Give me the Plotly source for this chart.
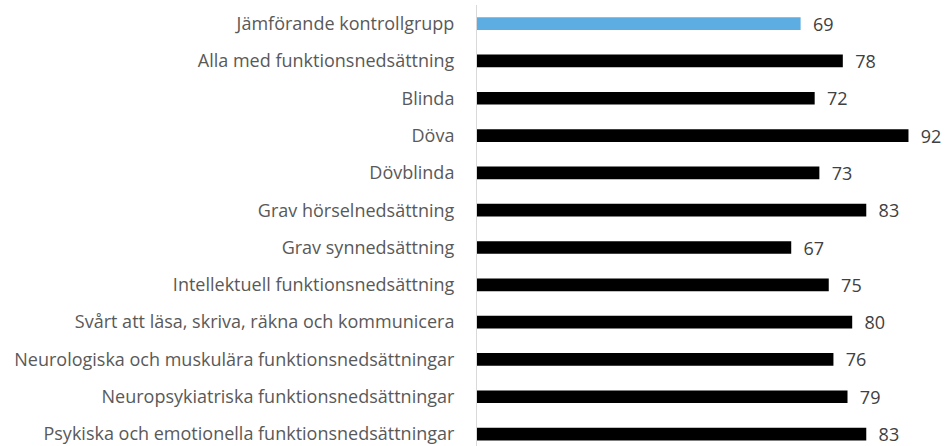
import plotly.graph_objects as go

categories = [
    "Jämförande kontrollgrupp",
    "Alla med funktionsnedsättning",
    "Blinda",
    "Döva",
    "Dövblinda",
    "Grav hörselnedsättning",
    "Grav synnedsättning",
    "Intellektuell funktionsnedsättning",
    "Svårt att läsa, skriva, räkna och kommunicera",
    "Neurologiska och muskulära funktionsnedsättningar",
    "Neuropsykiatriska funktionsnedsättningar",
    "Psykiska och emotionella funktionsnedsättningar",
]
values = [69, 78, 72, 92, 73, 83, 67, 75, 80, 76, 79, 83]
colors = ["#5DADE2"] + ["#000000"] * (len(values) - 1)

FONT = "Open Sans, sans-serif"

fig = go.Figure(go.Bar(
    x=values,
    y=categories,
    orientation="h",
    marker=dict(color=colors, line=dict(width=0)),
    width=0.34,
    text=values,
    texttemplate="  %{text}",
    textposition="outside",
    constraintext="none",
    cliponaxis=False,
    textfont=dict(family=FONT, size=18, color="#404040"),
))

fig.update_layout(
    width=946, height=446,
    margin=dict(l=477, r=0, t=5, b=0, autoexpand=False),
    paper_bgcolor="white", plot_bgcolor="white",
    showlegend=False,
    font=dict(family=FONT, size=18, color="#595959"),
    xaxis=dict(range=[0, 100], visible=False, showgrid=False, automargin=False),
    yaxis=dict(
        type="category",
        range=[11.32, -0.5],
        automargin=False,
        showline=True, linecolor="#d9d9d9", linewidth=1,
        showgrid=False, ticks="", ticklabelstandoff=18,
        tickfont=dict(family=FONT, size=18, color="#595959"),
    ),
)

fig.write_html(
    "out.html",
    config={"displayModeBar": False},
    post_script="document.body.style.margin='0';document.body.style.overflow='hidden';",
)
